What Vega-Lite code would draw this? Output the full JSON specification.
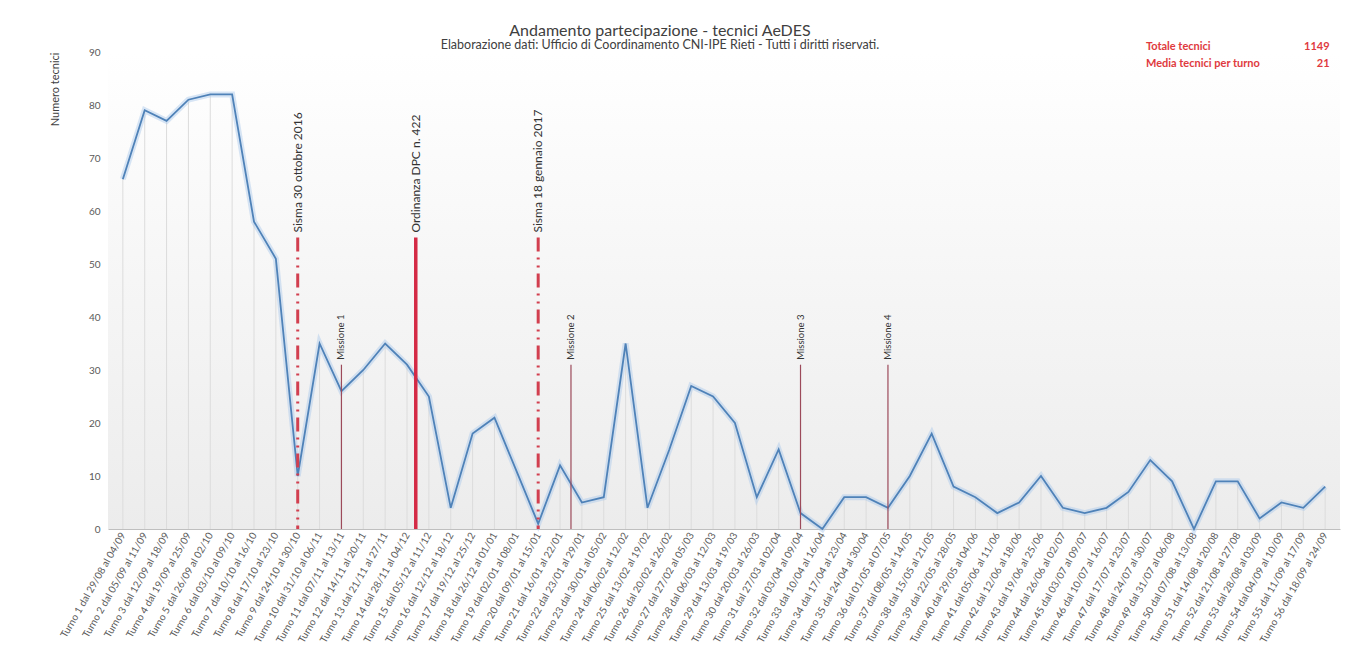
{
  "$schema": "https://vega.github.io/schema/vega-lite/v6.json",
  "width": 1232,
  "height": 477,
  "autosize": {"type": "none"},
  "padding": {"left": 108, "top": 52, "right": 19, "bottom": 123},
  "background": "#ffffff",
  "config": {"font": "Lato", "view": {"stroke": null}},
  "title": {
    "text": "Andamento partecipazione  - tecnici AeDES",
    "subtitle": "Elaborazione dati: Ufficio di Coordinamento CNI-IPE Rieti - Tutti i diritti riservati.",
    "fontSize": 16,
    "fontWeight": "normal",
    "color": "#404040",
    "subtitleFontSize": 12.5,
    "subtitleColor": "#404040",
    "subtitlePadding": 0,
    "offset": -10,
    "dx": -64
  },
  "datasets": {
    "turni": [
      {"n": 1, "v": 66}, {"n": 2, "v": 79}, {"n": 3, "v": 77}, {"n": 4, "v": 81},
      {"n": 5, "v": 82}, {"n": 6, "v": 82}, {"n": 7, "v": 58}, {"n": 8, "v": 51},
      {"n": 9, "v": 10}, {"n": 10, "v": 35}, {"n": 11, "v": 26}, {"n": 12, "v": 30},
      {"n": 13, "v": 35}, {"n": 14, "v": 31}, {"n": 15, "v": 25}, {"n": 16, "v": 4},
      {"n": 17, "v": 18}, {"n": 18, "v": 21}, {"n": 19, "v": 11}, {"n": 20, "v": 1},
      {"n": 21, "v": 12}, {"n": 22, "v": 5}, {"n": 23, "v": 6}, {"n": 24, "v": 35},
      {"n": 25, "v": 4}, {"n": 26, "v": 15}, {"n": 27, "v": 27}, {"n": 28, "v": 25},
      {"n": 29, "v": 20}, {"n": 30, "v": 6}, {"n": 31, "v": 15}, {"n": 32, "v": 3},
      {"n": 33, "v": 0}, {"n": 34, "v": 6}, {"n": 35, "v": 6}, {"n": 36, "v": 4},
      {"n": 37, "v": 10}, {"n": 38, "v": 18}, {"n": 39, "v": 8}, {"n": 40, "v": 6},
      {"n": 41, "v": 3}, {"n": 42, "v": 5}, {"n": 43, "v": 10}, {"n": 44, "v": 4},
      {"n": 45, "v": 3}, {"n": 46, "v": 4}, {"n": 47, "v": 7}, {"n": 48, "v": 13},
      {"n": 49, "v": 9}, {"n": 50, "v": 0}, {"n": 51, "v": 9}, {"n": 52, "v": 9},
      {"n": 53, "v": 2}, {"n": 54, "v": 5}, {"n": 55, "v": 4}, {"n": 56, "v": 8}
    ],
    "eventi": [
      {"pos": 9, "top": 55, "label": "Sisma 30 ottobre 2016", "kind": "sisma"},
      {"pos": 11, "top": 31, "label": "Missione 1", "kind": "missione"},
      {"pos": 14.4, "top": 55, "label": "Ordinanza DPC n. 422", "kind": "ordinanza"},
      {"pos": 20, "top": 55, "label": "Sisma 18 gennaio 2017", "kind": "sisma"},
      {"pos": 21.5, "top": 31, "label": "Missione 2", "kind": "missione"},
      {"pos": 32, "top": 31, "label": "Missione 3", "kind": "missione"},
      {"pos": 36, "top": 31, "label": "Missione 4", "kind": "missione"}
    ],
    "riepilogo": [
      {"t": "Totale tecnici", "riga": 90.9},
      {"t": "Media tecnici per turno", "riga": 87.7}
    ]
  },
  "layer": [
    {
      "data": {"values": [{}]},
      "mark": {
        "type": "rect",
        "fill": {"gradient": "linear", "x1": 0, "y1": 0, "x2": 0, "y2": 1,
          "stops": [{"offset": 0, "color": "#ffffff"}, {"offset": 1, "color": "#ececec"}]}
      },
      "encoding": {}
    },
    {
      "data": {"name": "turni"},
      "mark": {"type": "bar", "color": "#dcdcdc", "width": 1},
      "encoding": {
        "x": {
          "field": "n", "type": "quantitative",
          "scale": {"domain": [0.55, 56.45], "nice": false, "zero": false},
          "axis": {
            "title": null,
            "values": [1,2,3,4,5,6,7,8,9,10,11,12,13,14,15,16,17,18,19,20,21,22,23,24,25,26,27,28,29,30,31,32,33,34,35,36,37,38,39,40,41,42,43,44,45,46,47,48,49,50,51,52,53,54,55,56],
            "tickCount": 100,
            "labelExpr": "['Turno 1 dal 29/08 al 04/09','Turno 2 dal 05/09 al 11/09','Turno 3 dal 12/09 al 18/09','Turno 4 dal 19/09 al 25/09','Turno 5 dal 26/09 al 02/10','Turno 6 dal 03/10 al 09/10','Turno 7 dal 10/10 al 16/10','Turno 8 dal 17/10 al 23/10','Turno 9 dal 24/10 al 30/10','Turno 10 dal 31/10 al 06/11','Turno 11 dal 07/11 al 13/11','Turno 12 dal 14/11 al 20/11','Turno 13 dal 21/11 al 27/11','Turno 14 dal 28/11 al 04/12','Turno 15 dal 05/12 al 11/12','Turno 16 dal 12/12 al 18/12','Turno 17 dal 19/12 al 25/12','Turno 18 dal 26/12 al 01/01','Turno 19 dal 02/01 al 08/01','Turno 20 dal 09/01 al 15/01','Turno 21 dal 16/01 al 22/01','Turno 22 dal 23/01 al 29/01','Turno 23 dal 30/01 al 05/02','Turno 24 dal 06/02 al 12/02','Turno 25 dal 13/02 al 19/02','Turno 26 dal 20/02 al 26/02','Turno 27 dal 27/02 al 05/03','Turno 28 dal 06/03 al 12/03','Turno 29 dal 13/03 al 19/03','Turno 30 dal 20/03 al 26/03','Turno 31 dal 27/03 al 02/04','Turno 32 dal 03/04 al 09/04','Turno 33 dal 10/04 al 16/04','Turno 34 dal 17/04 al 23/04','Turno 35 dal 24/04 al 30/04','Turno 36 dal 01/05 al 07/05','Turno 37 dal 08/05 al 14/05','Turno 38 dal 15/05 al 21/05','Turno 39 dal 22/05 al 28/05','Turno 40 dal 29/05 al 04/06','Turno 41 dal 05/06 al 11/06','Turno 42 dal 12/06 al 18/06','Turno 43 dal 19/06 al 25/06','Turno 44 dal 26/06 al 02/07','Turno 45 dal 03/07 al 09/07','Turno 46 dal 10/07 al 16/07','Turno 47 dal 17/07 al 23/07','Turno 48 dal 24/07 al 30/07','Turno 49 dal 31/07 al 06/08','Turno 50 dal 07/08 al 13/08','Turno 51 dal 14/08 al 20/08','Turno 52 dal 21/08 al 27/08','Turno 53 dal 28/08 al 03/09','Turno 54 dal 04/09 al 10/09','Turno 55 dal 11/09 al 17/09','Turno 56 dal 18/09 al 24/09'][datum.value - 1]",
            "labelAngle": -60,
            "labelFontSize": 10,
            "labelColor": "#595959",
            "labelOverlap": false,
            "labelBound": false,
            "labelFlush": false,
            "labelPadding": 4,
            "ticks": false,
            "grid": false,
            "domainColor": "#bfbfbf"
          }
        },
        "y": {
          "field": "v", "type": "quantitative",
          "scale": {"domain": [0, 90], "nice": false},
          "axis": {
            "title": "Numero tecnici",
            "values": [0,10,20,30,40,50,60,70,80,90],
            "labelFontSize": 10, "labelColor": "#595959", "labelPadding": 8,
            "ticks": false, "domain": false, "grid": false,
            "titleAnchor": "end", "titleFontSize": 11, "titleFontWeight": "normal",
            "titleColor": "#404040", "titlePadding": 28
          }
        }
      }
    },
    {
      "data": {"name": "turni"},
      "mark": {"type": "line", "color": "#a9c8ea", "strokeWidth": 6, "opacity": 0.45},
      "encoding": {
        "x": {"field": "n", "type": "quantitative"},
        "y": {"field": "v", "type": "quantitative"}
      }
    },
    {
      "data": {"name": "turni"},
      "mark": {"type": "line", "color": "#4f82b8", "strokeWidth": 1.8},
      "encoding": {
        "x": {"field": "n", "type": "quantitative"},
        "y": {"field": "v", "type": "quantitative"}
      }
    },
    {
      "data": {"name": "eventi"},
      "transform": [{"filter": "datum.kind === 'sisma'"}],
      "mark": {"type": "rule", "color": "#d23f4f", "strokeWidth": 3, "strokeDash": [14, 6, 2, 6, 2, 6]},
      "encoding": {
        "x": {"field": "pos", "type": "quantitative"},
        "y": {"field": "top", "type": "quantitative"},
        "y2": {"value": "height"}
      }
    },
    {
      "data": {"name": "eventi"},
      "transform": [{"filter": "datum.kind === 'ordinanza'"}],
      "mark": {"type": "rule", "color": "#d42a45", "strokeWidth": 3.5},
      "encoding": {
        "x": {"field": "pos", "type": "quantitative"},
        "y": {"field": "top", "type": "quantitative"},
        "y2": {"value": "height"}
      }
    },
    {
      "data": {"name": "eventi"},
      "transform": [{"filter": "datum.kind === 'missione'"}],
      "mark": {"type": "rule", "color": "#9c4a5a", "strokeWidth": 1.2},
      "encoding": {
        "x": {"field": "pos", "type": "quantitative"},
        "y": {"field": "top", "type": "quantitative"},
        "y2": {"value": "height"}
      }
    },
    {
      "data": {"name": "eventi"},
      "transform": [{"filter": "datum.kind !== 'missione'"}],
      "mark": {"type": "text", "angle": 270, "align": "left", "baseline": "middle", "dx": 5, "fontSize": 12, "color": "#333333"},
      "encoding": {
        "x": {"field": "pos", "type": "quantitative"},
        "y": {"field": "top", "type": "quantitative"},
        "text": {"field": "label", "type": "nominal"}
      }
    },
    {
      "data": {"name": "eventi"},
      "transform": [{"filter": "datum.kind === 'missione'"}],
      "mark": {"type": "text", "angle": 270, "align": "left", "baseline": "middle", "dx": 5, "fontSize": 9.5, "color": "#333333"},
      "encoding": {
        "x": {"field": "pos", "type": "quantitative"},
        "y": {"field": "top", "type": "quantitative"},
        "text": {"field": "label", "type": "nominal"}
      }
    },
    {
      "data": {"name": "riepilogo"},
      "mark": {"type": "text", "align": "left", "baseline": "middle", "fontSize": 11, "fontWeight": "bold", "color": "#e03a3e"},
      "encoding": {
        "x": {"datum": 47.8, "type": "quantitative"},
        "y": {"field": "riga", "type": "quantitative"},
        "text": {"field": "t", "type": "nominal"}
      }
    },
    {
      "data": {"name": "turni"},
      "transform": [{"aggregate": [{"op": "sum", "field": "v", "as": "tot"}]}],
      "mark": {"type": "text", "align": "right", "baseline": "middle", "fontSize": 11, "fontWeight": "bold", "color": "#e03a3e"},
      "encoding": {
        "x": {"datum": 56.2, "type": "quantitative"},
        "y": {"datum": 90.9, "type": "quantitative"},
        "text": {"field": "tot", "type": "quantitative", "format": "d"}
      }
    },
    {
      "data": {"name": "turni"},
      "transform": [{"aggregate": [{"op": "mean", "field": "v", "as": "avg"}]}],
      "mark": {"type": "text", "align": "right", "baseline": "middle", "fontSize": 11, "fontWeight": "bold", "color": "#e03a3e"},
      "encoding": {
        "x": {"datum": 56.2, "type": "quantitative"},
        "y": {"datum": 87.7, "type": "quantitative"},
        "text": {"field": "avg", "type": "quantitative", "format": ".0f"}
      }
    }
  ]
}
